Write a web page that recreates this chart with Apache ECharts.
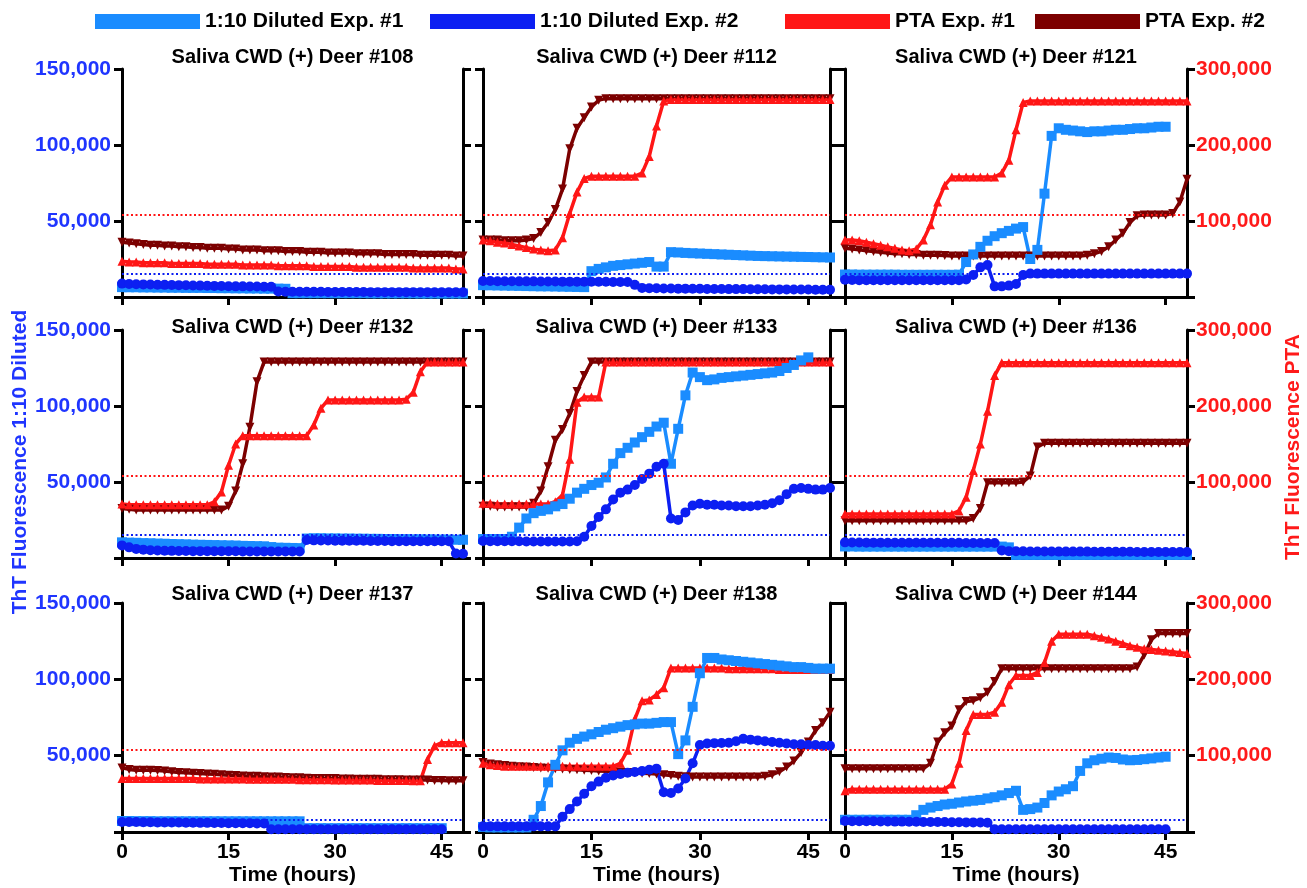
<!DOCTYPE html>
<html>
<head>
<meta charset="utf-8">
<title>Saliva CWD (+) Deer - ThT Fluorescence</title>
<script src="https://cdn.jsdelivr.net/npm/echarts@6/dist/echarts.min.js"></script>
<style>
  html, body { margin: 0; padding: 0; background: #fff; }
  #chart { width: 1307px; height: 888px; }
</style>
</head>
<body>
<div id="chart"></div>
<script>
// all fluorescence values in thousands (diluted: left scale, PTA: right scale)
const hours = [0,1,2,3,4,5,6,7,8,9,10,11,12,13,14,15,16,17,18,19,20,21,22,23,24,25,26,27,28,29,30,31,32,33,34,35,36,37,38,39,40,41,42,43,44,45,46,47,48]
const xTicks = [0, 15, 30, 45]
const deer = ['#108', '#112', '#121', '#132', '#133', '#136', '#137', '#138', '#144']
const seriesNames = ['1:10 Diluted Exp. #1', '1:10 Diluted Exp. #2', 'PTA Exp. #1', 'PTA Exp. #2']

// threshold lines (thousands)
const dilThreshold = [15.5, 15.5, 15.5, 15, 15, 15, 8, 8, 8]
const ptaThreshold = [108, 108, 108, 108, 108, 108, 108, 108, 108]

// Deer #108
const dil1_108 = [6.5,6.4,6.4,6.3,6.3,6.2,6.2,6.1,6.1,6.0,6.0,6.0,5.9,5.9,5.8,5.8,5.7,5.7,5.6,5.6,5.5,5.5,5.5,5.4,2.5,2.5,2.5,2.5,2.5,2.5,2.5,2.5,2.5,2.5,2.5,2.4,2.4,2.4,2.4,2.4,2.4,2.4,2.3,2.3,2.3,2.3,2.3,2.3,2.3]
const dil2_108 = [8.8,8.6,8.4,8.3,8.2,8.1,8.0,7.9,7.8,7.7,7.6,7.5,7.4,7.3,7.2,7.1,7.0,7.0,6.9,6.9,6.8,6.8,3.6,3.5,3.5,3.4,3.4,3.4,3.4,3.3,3.3,3.3,3.3,3.3,3.3,3.2,3.2,3.2,3.2,3.2,3.2,3.2,3.1,3.1,3.1,3.1,3.1,3.1,3.1]
const pta1_108 = [47,46,46,45,45,45,45,44,44,44,44,44,43,43,43,43,43,42,42,42,42,42,41,41,41,41,41,40,40,40,40,40,40,39,39,39,39,39,39,39,39,38,38,38,38,38,38,37,37]
const pta2_108 = [72,71,70,69,68,68,67,67,66,66,65,65,64,64,64,63,63,62,62,62,61,61,61,60,60,60,59,59,59,58,58,58,58,57,57,57,57,56,56,56,56,56,55,55,55,55,55,54,54]

// Deer #112
const dil1_112 = [7.8,7.7,7.6,7.5,7.4,7.3,7.2,7.1,7.0,7.0,6.9,6.8,6.7,6.6,6.5,17,18.5,19.5,20.5,21,21.5,22,22.5,23,20,20,29.5,29.3,29,28.8,28.6,28.4,28.2,28,27.8,27.6,27.4,27.2,27,26.9,26.8,26.7,26.6,26.5,26.4,26.3,26.2,26.1,26]
const dil2_112 = [10.5,10.5,10.4,10.4,10.4,10.3,10.3,10.3,10.2,10.2,10.2,10.1,10.1,10.1,10.0,10.0,10.0,10.0,9.9,9.9,9.9,8,6,5.8,5.7,5.6,5.6,5.5,5.5,5.4,5.4,5.3,5.3,5.3,5.2,5.2,5.2,5.1,5.1,5.1,5.0,5.0,5.0,4.9,4.9,4.9,4.8,4.8,4.8]
const pta1_112 = [75,74,72,71,69,67,65,63,62,61,62,78,110,138,156,159,159,159,159,159,159,159,163,185,225,258,260,260,260,260,260,260,260,260,260,260,260,260,260,260,260,260,260,260,260,260,260,260,260]
const pta2_112 = [75,75,75,74,74,74,75,77,85,98,115,142,195,222,236,250,259,261,261,261,261,261,261,261,261,261,261,261,261,261,261,261,261,261,261,261,261,261,261,261,261,261,261,261,261,261,261,261,261]

// Deer #121
const dil1_121 = [14.8,14.8,14.7,14.7,14.7,14.7,14.7,14.7,14.6,14.6,14.6,14.6,14.6,14.6,14.6,14.6,14.7,23,28,33,37,40,42,43.5,45,46,25,31,68,106,111,110,109.5,109,108.5,109,109,109.5,110,110,110.5,111,111,111.5,112,112]
const dil2_121 = [11.4,11.2,11.1,11,11,11,11,11,11,11,11,11,11,11,11,11,11,11.5,14.5,19.5,21,7,7,7.5,8.5,14.5,15.4,15.4,15.4,15.4,15.4,15.4,15.4,15.4,15.4,15.4,15.4,15.4,15.4,15.4,15.4,15.4,15.4,15.4,15.4,15.4,15.4,15.4,15.4]
const pta1_121 = [75,75,74,72,70,68,66,64,62,61,63,75,95,125,147,158,158,158,158,158,158,158,163,180,220,256,258,258,258,258,258,258,258,258,258,258,258,258,258,258,258,258,258,258,258,258,258,258,258]
const pta2_121 = [64,63,62,61,60,59,58,57,57,56,56,55,55,55,54.5,54,54,54,54,54,54,54,54,54,54,54,54,54,54,54,54,54,54,54,55,57,60,66,75,84,98,107,108,108,108,108,110,125,155]

// Deer #132
const dil1_132 = [10.3,10.1,10,9.8,9.7,9.5,9.4,9.2,9.1,9,8.8,8.7,8.6,8.5,8.4,8.3,8.2,8.0,7.9,7.8,7.7,7.2,6.8,6.7,6.6,6.5,12.8,13,13,12.9,12.9,12.8,12.8,12.7,12.7,12.6,12.6,12.5,12.5,12.4,12.4,12.3,12.3,12.2,12.2,12.1,12.1,12,12]
const dil2_132 = [8.3,7,6,5.5,5.1,4.9,4.8,4.7,4.6,4.6,4.5,4.5,4.5,4.4,4.4,4.4,4.4,4.3,4.3,4.3,4.3,4.3,4.3,4.3,4.3,4.3,11.8,11.6,11.5,11.5,11.4,11.4,11.3,11.3,11.3,11.2,11.2,11.2,11.1,11.1,11.1,11.1,11,11,11,11,11,3,2.8]
const pta1_132 = [71,70,70,70,70,70,70,70,70,70,70,70,70,74,87,122,150,161,161,161,161,161,161,161,161,161,161,175,197,208,208,208,208,208,208,208,208,208,208,208,209,218,245,258,258,258,258,258,258]
const pta2_132 = [65,64,63,63,63,63,63,63,63,63,63,63,63,63,63,68,88,124,172,232,258,258,258,258,258,258,258,258,258,258,258,258,258,258,258,258,258,258,258,258,258,258,258,258,258,258,258,258,258]

// Deer #133
const dil1_133 = [12.5,12.5,12.5,12.5,14,20,26,29.5,31,32,34,35.5,39,43,45.5,48,49.5,53,62,69,72.5,76,79.5,83,86.5,89,62,85,107,122,119,117,117.5,118.5,119,119.5,120,120.5,121,121.5,122,123,125,127,130,132]
const dil2_133 = [11.2,11.1,11,11,11,11,10.9,10.9,10.9,10.8,10.8,10.8,10.9,11,14,21,27,32,38.5,43,45,48,52,55.5,60,62,26,25,30,34.5,35.7,35,35,34.5,34.5,34,34,34,34.5,35,36,38,42,45.5,46,45.5,45,45,46]
const pta1_133 = [72,72,71,71,71,71,71,71,71,71,74,83,130,205,212,212,212,258,258,258,258,258,258,258,258,258,258,258,258,258,258,258,258,258,258,258,258,258,258,258,258,258,258,258,258,258,258,258,258]
const pta2_133 = [68,68,67,67,67,67,67,72,88,120,155,169,190,219,240,258,258,258,258,258,258,258,258,258,258,258,258,258,258,258,258,258,258,258,258,258,258,258,258,258,258,258,258,258,258,258,258,258,258]

// Deer #136
const dil1_136 = [7.6,7.6,7.5,7.5,7.5,7.5,7.5,7.5,7.5,7.5,7.5,7.5,7.5,7.5,7.5,7.5,7.5,7.5,7.5,7.5,7.5,7.5,7.5,7,2,2,2,2,2,2,2,2,2,2,2,2,2,2,2,2,2,2,2,2,2,2,2,2,2]
const dil2_136 = [10.3,10.2,10.2,10.1,10.1,10.1,10,10,10,10,10,10,10,10,10,10,10,9.9,9.9,9.9,9.9,9.9,5,4.4,4.4,4.4,4.3,4.3,4.3,4.3,4.2,4.2,4.2,4.2,4.2,4.1,4.1,4.1,4.1,4.1,4.1,4,4,4,4,4,4,4,4]
const pta1_136 = [58,58,58,58,58,58,58,58,58,58,58,58,58,58,58,58,62,80,115,150,193,240,257,257,257,257,257,257,257,257,257,257,257,257,257,257,257,257,257,257,257,257,257,257,257,257,257,257,257]
const pta2_136 = [49,49,49,49,49,49,49,49,49,49,49,49,49,49,49,49,49,49,52,65,99,99,99,99,99,100,108,146,151,151,151,151,151,151,151,151,151,151,151,151,151,151,151,151,151,151,151,151,151]

// Deer #137
const dil1_137 = [7.2,7.2,7.1,7.1,7.1,7,7,7,7,7,7,7,7,7,7,7,7,7,7,7,7,7,7,7,7,7,2.5,2.5,2.5,2.5,2.5,2.5,2.5,2.5,2.5,2.5,2.5,2.5,2.5,2.5,2.5,2.5,2.5,2.5,2.5,2.5]
const dil2_137 = [6.6,6.5,6.5,6.4,6.4,6.3,6.3,6.2,6.2,6.1,6.1,6,6,5.9,5.9,5.8,5.8,5.7,5.7,5.6,5.6,1.8,1.8,1.8,1.8,1.8,1.8,1.8,1.8,1.8,1.8,1.8,1.8,1.8,1.8,1.8,1.8,1.8,1.8,1.8,1.8,1.8,1.8,1.8,1.8,1.8]
const pta1_137 = [70,70,70,70,70,70,70,70,70,70,70,69.5,69.5,69.5,69.5,69.5,69.5,69.5,69,69,69,69,69,69,69,68.5,68.5,68.5,68.5,68.5,68,68,68,68,68,68,67.5,67.5,67.5,67.5,67.5,67,67,95,113,117,117,117,117]
const pta2_137 = [84,82,81,81,81,80.5,80,79,78,77.5,77,76.5,76,75.5,75,74.5,74,73.5,73,73,72.5,72,72,71.5,71,71,70.5,70,70,70,70,69.5,69.5,69,69,69,69,68.5,68.5,68.5,68,68,68,68,67.5,67.5,67,67,67]

// Deer #138
const dil1_138 = [3.3,3,3,3,3,3,3,8,17,32.5,44,53.5,58.5,61,62.5,64,65.5,67,68,69,70,70.5,71,71,71.5,72,72,51,60,82,104,114,114,113,112.5,112,111.5,111,110.5,110,109.5,109,108.5,108,108,107.5,107,107,107]
const dil2_138 = [3.7,3.7,3.7,3.7,3.7,3.7,3.7,3.7,3.7,3.7,3.7,10,15,20,25,30,33,35.5,37,38,38.8,39.3,40,40.8,41.5,26,25.6,28.5,35,45,57,58,58.2,58.3,58.5,59.5,61,60.5,60,59.5,59,58.5,58,57.5,57.5,57,57,56.5,56.5]
const pta1_138 = [90,88,87,86,86,86,86,86,86,86,86,86,86,86,86,86,86,86,86,90,107,148,172,173,180,189,215,215,215,215,215,215,215,215,214,214,214,214,214,214,214,213,213,213,213,213,213,213,213]
const pta2_138 = [91,89,88,87,86,85.5,85,84.5,84,83.5,83,82.5,82,81.5,81,80.5,80,79.5,79,78.5,78,77.5,77,76.5,76,75,74,73,72.5,72,72,72,72,72,72,72,72,72,72,73,75,79,85,93,104,118,133,143,157]

// Deer #144
const dil1_144 = [8,8,8,8,8,8,8,8,8,8,11,14.5,16,17,18,18.5,19.3,20,20.5,21,22,22.8,24,25.5,27,14.5,15,16,19,24,26.5,28,30,40,45,47,48,48.8,48.5,47.5,47,47.2,47.7,48.2,48.8,49.3]
const dil2_144 = [7.2,7.1,7.1,7,7,6.9,6.9,6.8,6.8,6.7,6.7,6.6,6.6,6.5,6.5,6.4,6.4,6.3,6.3,6.2,6.1,1.8,1.8,1.8,1.8,1.8,1.8,1.8,1.8,1.8,1.8,1.8,1.8,1.8,1.8,1.8,1.8,1.8,1.8,1.8,1.8,1.8,1.8,1.8,1.8,1.8]
const pta1_144 = [54,56,56,56,56,56,56,56,56,56,56,56,56,56,56,63,90,133,154,154,154,157,170,193,205,205,205,209,222,250,259,259,259,259,259,257,255,253,250,247,244,242,240,239,238,237,236,235,234]
const pta2_144 = [83,83,83,83,83,83,83,83,83,83,83,83,90,118,130,139,160,171,172,176,183,197,214,214,214,214,214,214,214,214,214,214,214,214,214,214,214,214,214,214,214,216,232,252,260,260,260,260,260]

const dil1 = [dil1_108, dil1_112, dil1_121, dil1_132, dil1_133, dil1_136, dil1_137, dil1_138, dil1_144]
const dil2 = [dil2_108, dil2_112, dil2_121, dil2_132, dil2_133, dil2_136, dil2_137, dil2_138, dil2_144]
const pta1 = [pta1_108, pta1_112, pta1_121, pta1_132, pta1_133, pta1_136, pta1_137, pta1_138, pta1_144]
const pta2 = [pta2_108, pta2_112, pta2_121, pta2_132, pta2_133, pta2_136, pta2_137, pta2_138, pta2_144]

// layout (px)
const colLeft = [122, 483, 845]
const colWidth = [341, 347, 342]
const rowTop = [69, 330, 603]
const rowHeight = [228, 228, 229]
const titleY = [57, 327, 594]

const FONT = '"Liberation Sans", Arial, Helvetica, sans-serif'
const C_DIL1 = '#1a8cff'
const C_DIL2 = '#0c1ff2'
const C_PTA1 = '#ff1616'
const C_PTA2 = '#7c0000'
const C_BLUE_TEXT = '#1f35ff'
const C_RED_TEXT = '#ff1a1a'

const thousands = v => v === 0 ? '' : String(v).replace(/\B(?=(\d{3})+(?!\d))/g, ',')

const axisLineStyle = {onZero: false, lineStyle: {color: '#000', width: 3}}
const axisTickStyle = {length: 8, lineStyle: {color: '#000', width: 3}}

let grid = [], xAxis = [], yAxis = [], series = [], graphic = []

function lineSeries(name, values, i, yIdx, color, symbol, size, rotate, width) {
  return {
    name: name,
    type: 'line',
    xAxisIndex: i,
    yAxisIndex: yIdx,
    data: values.map((v, k) => [hours[k], v * 1000]),
    symbol: symbol,
    symbolSize: size,
    symbolRotate: rotate,
    showSymbol: true,
    showAllSymbol: true,
    lineStyle: {color: color, width: width},
    itemStyle: {color: color},
    emphasis: {disabled: true},
    animation: false
  }
}

deer.forEach((d, i) => {
  const row = Math.floor(i / 3), col = i % 3
  grid.push({
    left: colLeft[col], top: rowTop[row], width: colWidth[col], height: rowHeight[row],
    containLabel: false, outerBoundsMode: 'none'
  })
  xAxis.push({
    gridIndex: i, type: 'value', min: 0, max: 48, interval: 15,
    axisLine: axisLineStyle,
    axisTick: Object.assign({customValues: xTicks}, axisTickStyle),
    axisLabel: {
      show: row === 2, customValues: xTicks, margin: 10,
      formatter: v => v % 15 === 0 ? String(v) : '',
      color: '#000', fontSize: 21, fontWeight: 'bold', fontFamily: FONT
    },
    splitLine: {show: false},
    name: row === 2 ? 'Time (hours)' : '',
    nameLocation: 'middle', nameGap: 33,
    nameTextStyle: {color: '#000', fontSize: 21, fontWeight: 'bold', fontFamily: FONT}
  })
  // left axis: 1:10 diluted
  yAxis.push({
    gridIndex: i, type: 'value', position: 'left', min: 0, max: 150000, interval: 50000,
    axisLine: axisLineStyle, axisTick: axisTickStyle,
    axisLabel: {
      show: col === 0, margin: 11, formatter: thousands,
      color: C_BLUE_TEXT, fontSize: 21, fontWeight: 'bold', fontFamily: FONT
    },
    splitLine: {show: false}
  })
  // right axis: PTA
  yAxis.push({
    gridIndex: i, type: 'value', position: 'right', min: 0, max: 300000, interval: 100000,
    axisLine: axisLineStyle, axisTick: axisTickStyle,
    axisLabel: {
      show: col === 2, margin: 9, formatter: thousands,
      color: C_RED_TEXT, fontSize: 21, fontWeight: 'bold', fontFamily: FONT
    },
    splitLine: {show: false}
  })

  const p2 = lineSeries(seriesNames[3], pta2[i], i, 2 * i + 1, C_PTA2, 'triangle', 9, 180, 3.5)
  const p1 = lineSeries(seriesNames[2], pta1[i], i, 2 * i + 1, C_PTA1, 'triangle', 9, 0, 3.5)
  p1.markLine = {
    silent: true, symbol: ['none', 'none'], animation: false,
    label: {show: false},
    lineStyle: {color: C_PTA1, type: [2, 2.5], width: 2},
    data: [{yAxis: ptaThreshold[i] * 1000}]
  }
  const d1 = lineSeries(seriesNames[0], dil1[i], i, 2 * i, C_DIL1, 'rect', 10, 0, 3.5)
  const d2 = lineSeries(seriesNames[1], dil2[i], i, 2 * i, C_DIL2, 'circle', 10, 0, 3.5)
  d2.markLine = {
    silent: true, symbol: ['none', 'none'], animation: false,
    label: {show: false},
    lineStyle: {color: C_DIL2, type: [2, 2.5], width: 2},
    data: [{yAxis: dilThreshold[i] * 1000}]
  }
  series.push(p2, p1, d1, d2)

  graphic.push({
    type: 'text',
    x: colLeft[col] + colWidth[col] / 2,
    y: titleY[row],
    style: {
      text: 'Saliva CWD (+) Deer ' + d,
      font: 'bold 20px ' + FONT,
      fill: '#000',
      textAlign: 'center',
      textVerticalAlign: 'middle'
    }
  })
})

graphic.push({
  type: 'text', x: 20, y: 462, rotation: Math.PI / 2,
  style: {
    text: 'ThT Fluorescence 1:10 Diluted', font: 'bold 21px ' + FONT,
    fill: C_BLUE_TEXT, textAlign: 'center', textVerticalAlign: 'middle'
  }
})
graphic.push({
  type: 'text', x: 1293, y: 447, rotation: Math.PI / 2,
  style: {
    text: 'ThT Fluorescence PTA', font: 'bold 21px ' + FONT,
    fill: C_RED_TEXT, textAlign: 'center', textVerticalAlign: 'middle'
  }
})

const legendLeft = [90, 425, 780, 1030]
const legend = seriesNames.map((name, k) => ({
  data: [{name: name, icon: 'rect'}],
  left: legendLeft[k], top: 6,
  itemWidth: 105, itemHeight: 15, itemGap: 0,
  selectedMode: false,
  textStyle: {color: '#000', fontSize: 21, fontWeight: 'bold', fontFamily: FONT}
}))

const chart = echarts.init(document.getElementById('chart'))
chart.setOption({
  animation: false,
  backgroundColor: '#fff',
  textStyle: {fontFamily: FONT},
  legend: legend,
  grid: grid,
  xAxis: xAxis,
  yAxis: yAxis,
  series: series,
  graphic: graphic
})
</script>
</body>
</html>
